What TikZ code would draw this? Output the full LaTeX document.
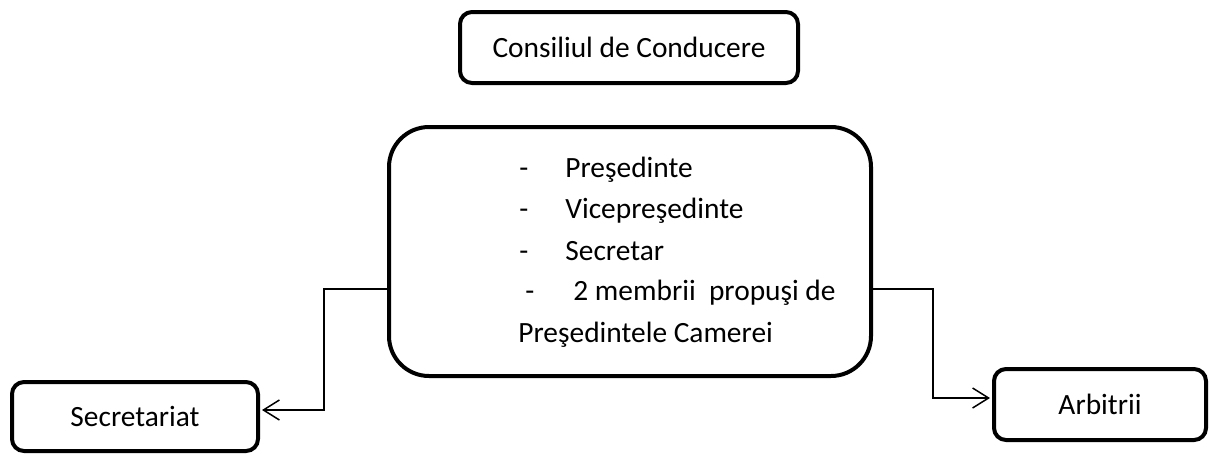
\documentclass[tikz,border=0pt]{standalone}
\usepackage{fontspec}
\setmainfont{Carlito}
\usetikzlibrary{arrows.meta}
\tikzset{
  unitbox/.style={draw, line width=2pt, rounded corners=6pt, align=center, inner sep=0pt},
  link/.style={line width=0.75pt, shorten >=1pt, -{Straight Barb[length=8pt,width=10pt,line width=0.75pt]}},
  item/.style={anchor=base west, inner sep=0pt},
}
\begin{document}
\begin{tikzpicture}[x=0.5pt, y=-0.5pt, font=\fontsize{14.7}{17}\selectfont]
            \useasboundingbox (0,0) rectangle (1210,456);

            % Council on top
            \node[unitbox, minimum width=169pt, minimum height=35.5pt] (council) at (629,47.5) {Consiliul de Conducere};

            % Board with its members
            \node[unitbox, rounded corners=20pt, minimum width=241pt, minimum height=124.5pt] (board) at (630,251.5) {};
            \node[item] (dasha) at (519,177) {-};
            \node[item] (itema) at (565,177) {Preşedinte};
            \node[item] (dashb) at (519,218) {-};
            \node[item] (itemb) at (565,218) {Vicepreşedinte};
            \node[item] (dashc) at (519,260) {-};
            \node[item] (itemc) at (565,260) {Secretar};
            \node[item] (dashd) at (525,300) {-};
            \node[item] (itemd) at (573,300) {2 membrii\ \ propuşi de};
            \node[item] (iteme) at (518,342) {Preşedintele Camerei};

            % Units below
            \node[unitbox, minimum width=123pt, minimum height=34.5pt] (secretariat) at (135,416.5) {Secretariat};
            \node[unitbox, minimum width=106pt, minimum height=35.5pt] (arbiters) at (1100,404.5) {Arbitrii};

            % Connectors with bends
            \coordinate (lbend) at (324,289);
            \coordinate (rbend) at (933,289);
            \draw[link] (board.west |- lbend) -- (lbend) |- ([yshift=3.25pt]secretariat.east);
            \draw[link] (board.east |- rbend) -- (rbend) |- ([yshift=3.25pt]arbiters.west);

\end{tikzpicture}
\end{document}
